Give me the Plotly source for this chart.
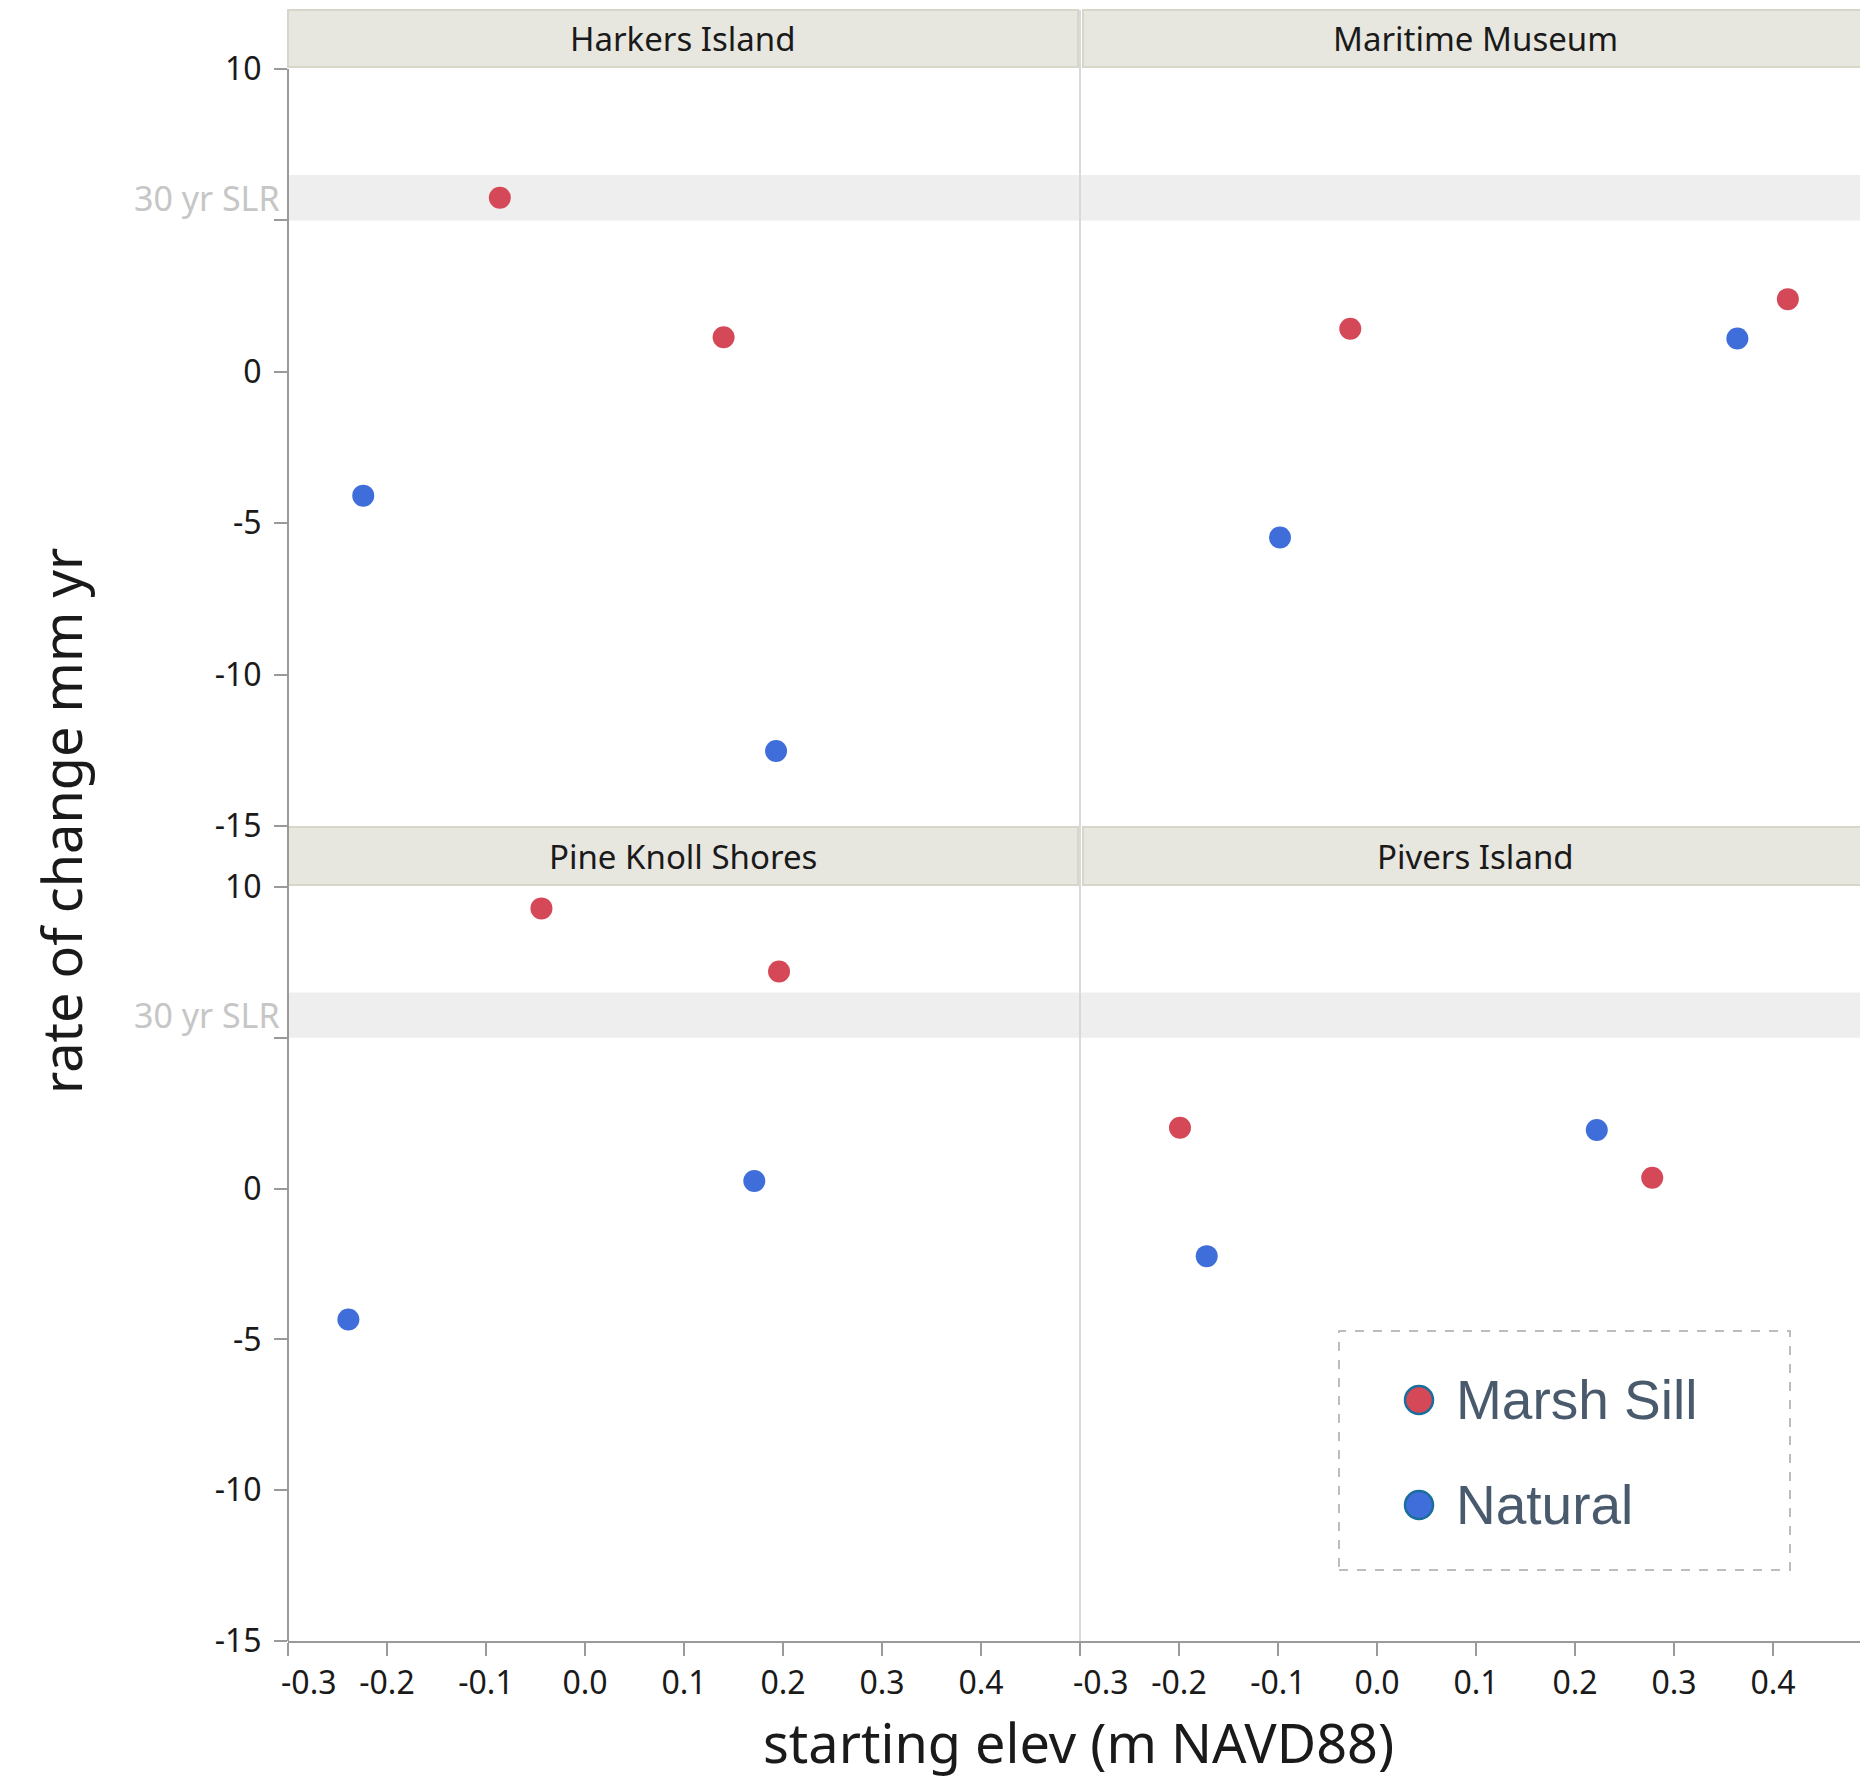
import plotly.graph_objects as go

# ---------------- data ----------------
sites = ["Harkers Island", "Maritime Museum", "Pine Knoll Shores", "Pivers Island"]
treatments = ["Marsh Sill", "Natural"]
colors = {"Marsh Sill": "#d54857", "Natural": "#3f6edb"}

harkers_sill_x = [-0.086, 0.140]
harkers_sill_y = [5.75, 1.14]
harkers_nat_x = [-0.224, 0.193]
harkers_nat_y = [-4.09, -12.52]

maritime_sill_x = [-0.027, 0.415]
maritime_sill_y = [1.42, 2.40]
maritime_nat_x = [0.364, -0.098]
maritime_nat_y = [1.10, -5.47]

pineknoll_sill_x = [-0.044, 0.196]
pineknoll_sill_y = [9.29, 7.20]
pineknoll_nat_x = [0.171, -0.239]
pineknoll_nat_y = [0.25, -4.34]

pivers_sill_x = [-0.199, 0.278]
pivers_sill_y = [2.02, 0.36]
pivers_nat_x = [0.222, -0.172]
pivers_nat_y = [1.94, -2.24]

slr_band = [5.0, 6.5]          # 30 yr sea-level-rise reference band
slr_label = "30 yr SLR"

x_tickvals = [-0.3, -0.2, -0.1, 0.0, 0.1, 0.2, 0.3, 0.4]
x_ticktext = ["\u00a0\u00a0\u00a0\u00a0\u00a0-0.3", "-0.2", "-0.1", "0.0", "0.1", "0.2", "0.3", "0.4"]
y_tickvals = [10, 5, 0, -5, -10, -15]
y_ticktext = ["10", "", "0", "-5", "-10", "-15"]

x_title = "starting elev (m NAVD88)"
y_title = "rate of change mm yr"

panel_data = [
    (harkers_sill_x, harkers_sill_y, harkers_nat_x, harkers_nat_y),
    (maritime_sill_x, maritime_sill_y, maritime_nat_x, maritime_nat_y),
    (pineknoll_sill_x, pineknoll_sill_y, pineknoll_nat_x, pineknoll_nat_y),
    (pivers_sill_x, pivers_sill_y, pivers_nat_x, pivers_nat_y),
]

# ---------------- layout geometry ----------------
# the page body has an 8px default margin, so the figure is 8px smaller
OFF = 8
W, H = 1868 - OFF, 1778 - OFF
ML, MB = 288 - OFF, 137
PW = W - ML
PH = H - MB


def py(Y):  # page pixel y -> paper y
    return (PH - (Y - OFF)) / PH


def px(X):  # page pixel x -> paper x
    return (X - OFF - ML) / PW


SPLIT = px(1080)
top_dom = [py(826), py(67)]
bot_dom = [0.0, py(885)]
x_doms = [[0.0, SPLIT], [SPLIT, 1.0]]
y_range = [-15, 10.066]
panel_px = 1080 - 288
x_ranges = [[-0.3, 0.5], [-0.3, -0.3 + 0.8 * (1868 - 1080) / panel_px]]

FONT = "Noto Sans"
tick_font = dict(family=FONT, size=32, color="#1a1a1a")
AX_GRAY = "#9a9a9a"

fig = go.Figure()

for i, (sx, sy, nx, ny) in enumerate(panel_data):
    suffix = "" if i == 0 else str(i + 1)
    fig.add_trace(go.Scatter(
        x=sx, y=sy, mode="markers", name="Marsh Sill", legendgroup="Marsh Sill",
        showlegend=False, xaxis="x" + suffix, yaxis="y" + suffix,
        marker=dict(size=22, color=colors["Marsh Sill"], line=dict(width=0)),
    ))
    fig.add_trace(go.Scatter(
        x=nx, y=ny, mode="markers", name="Natural", legendgroup="Natural",
        showlegend=False, xaxis="x" + suffix, yaxis="y" + suffix,
        marker=dict(size=22, color=colors["Natural"], line=dict(width=0)),
    ))

layout = dict(
    width=W, height=H,
    margin=dict(l=ML, r=0, t=0, b=MB, pad=0, autoexpand=False),
    paper_bgcolor="white", plot_bgcolor="white",
    showlegend=False,
    font=dict(family=FONT, color="#1a1a1a"),
)

for i in range(4):
    row, col = divmod(i, 2)
    suffix = "" if i == 0 else str(i + 1)
    bottom = row == 1
    left = col == 0
    layout["xaxis" + suffix] = dict(
        domain=x_doms[col], range=x_ranges[col], anchor="y" + suffix,
        showgrid=False, zeroline=False, automargin=False,
        showline=bottom, linecolor=AX_GRAY, linewidth=2,
        tickmode="array", tickvals=x_tickvals, ticktext=x_ticktext,
        showticklabels=bottom, ticks="outside" if bottom else "",
        ticklen=13, tickwidth=2, tickcolor=AX_GRAY, tickfont=tick_font,
    )
    layout["yaxis" + suffix] = dict(
        domain=bot_dom if bottom else top_dom, range=y_range, anchor="x" + suffix,
        showgrid=False, zeroline=False, showline=False, automargin=False,
        tickmode="array", tickvals=y_tickvals, ticktext=y_ticktext,
        showticklabels=left, ticks="outside" if left else "",
        ticklen=13, tickwidth=2, tickcolor=AX_GRAY, tickfont=tick_font,
        ticklabelstandoff=6,
    )

fig.update_layout(**layout)

shapes = []
annotations = []

# SLR bands and labels
for i in range(4):
    suffix = "" if i == 0 else str(i + 1)
    shapes.append(dict(type="rect", xref="x" + suffix + " domain", yref="y" + suffix,
                       x0=0, x1=1, y0=slr_band[0], y1=slr_band[1],
                       fillcolor="#eeeeee", line=dict(width=0), layer="below"))
    if i % 2 == 0:
        annotations.append(dict(text=slr_label, xref="x" + suffix + " domain", yref="y" + suffix,
                                x=0, y=(slr_band[0] + slr_band[1]) / 2, xshift=-6,
                                xanchor="right", yanchor="middle", showarrow=False,
                                font=dict(family=FONT, size=34, color="#c6c6c6")))

# vertical divider between columns
shapes.append(dict(type="line", xref="paper", yref="paper", x0=SPLIT, x1=SPLIT,
                   y0=0, y1=py(10), line=dict(color="#d9d9d9", width=2), layer="below"))

# strips (facet headers)
strip_rows = [(py(67), py(10)), (py(885), py(827))]
strip_x = [(0.0, px(1078)), (px(1083), 1.0)]
for r, (y0, y1) in enumerate(strip_rows):
    for c, (x0, x1) in enumerate(strip_x):
        shapes.append(dict(type="rect", xref="paper", yref="paper", x0=x0, x1=x1, y0=y0, y1=y1,
                           fillcolor="#e7e7df", line=dict(color="#d7d7c9", width=2)))
        annotations.append(dict(text=sites[r * 2 + c], xref="paper", yref="paper",
                                x=(x0 + x1) / 2, y=(y0 + y1) / 2, xanchor="center", yanchor="middle",
                                showarrow=False, font=dict(family=FONT, size=33, color="#1a1a1a")))

# left axis line across both rows
shapes.append(dict(type="line", xref="paper", yref="paper", x0=0, x1=0, y0=0, y1=py(69),
                   line=dict(color=AX_GRAY, width=2)))

# axis titles
annotations.append(dict(text=x_title, xref="paper", yref="paper", x=px(1078), y=py(1742),
                        xanchor="center", yanchor="middle", showarrow=False,
                        font=dict(family=FONT, size=54, color="#1a1a1a")))
annotations.append(dict(text=y_title, xref="paper", yref="paper", x=px(61), y=py(821),
                        xanchor="center", yanchor="middle", textangle=-90, showarrow=False,
                        font=dict(family=FONT, size=54, color="#1a1a1a")))

# legend box (manual)
shapes.append(dict(type="rect", xref="paper", yref="paper", x0=px(1339), x1=px(1790),
                   y0=py(1570), y1=py(1331), fillcolor="rgba(0,0,0,0)",
                   line=dict(color="#bdbdbd", width=2, dash="dash")))
for k, (name, Yc) in enumerate(zip(treatments, [1400, 1505])):
    shapes.append(dict(type="circle", xref="paper", yref="paper",
                       xsizemode="pixel", ysizemode="pixel",
                       xanchor=px(1419), yanchor=py(Yc),
                       x0=-14, x1=14, y0=-14, y1=14,
                       fillcolor=colors[name], line=dict(color="#1a6e9c", width=2.5)))
    annotations.append(dict(text=name, xref="paper", yref="paper", x=px(1454), y=py(Yc),
                            xanchor="left", yanchor="middle", showarrow=False,
                            font=dict(family="Liberation Sans", size=55, color="#4a5a6d")))

fig.update_layout(shapes=shapes, annotations=annotations)

fig.write_html("out.html")
